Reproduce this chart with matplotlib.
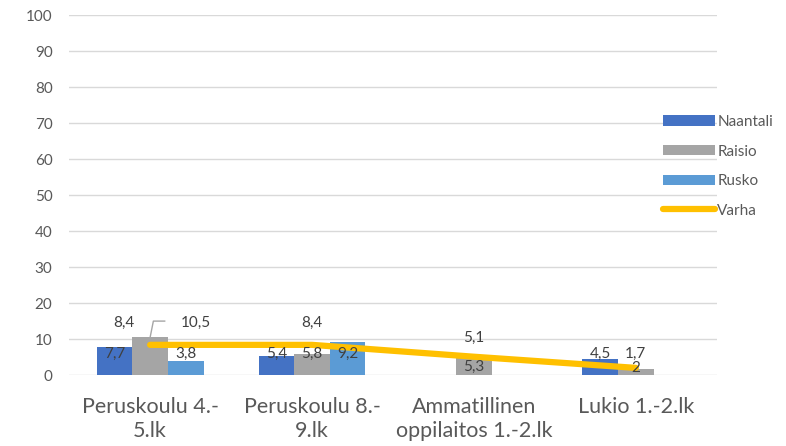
import numpy as np
import matplotlib
matplotlib.use("Agg")
import matplotlib.pyplot as plt

categories = ["Peruskoulu 4.-\n5.lk", "Peruskoulu 8.-\n9.lk",
              "Ammatillinen\noppilaitos 1.-2.lk", "Lukio 1.-2.lk"]
naantali = [7.7, 5.4, np.nan, 4.5]
raisio = [10.5, 5.8, 5.3, 1.7]
rusko = [3.8, 9.2, np.nan, np.nan]
varha = [8.4, 8.4, 5.1, 2.0]
yticks = list(range(0, 101, 10))

def fmt(v):
    s = f"{v:g}"
    return s.replace(".", ",")

plt.rcParams['font.family'] = ['Lato', 'DejaVu Sans']
fig = plt.figure(figsize=(7.86, 4.46), dpi=100)
ax = fig.add_axes([0.088, 0.159, 0.824, 0.807])

x = np.arange(len(categories))
w = 0.22
series = [("Naantali", naantali, "#4472C4", -w),
          ("Raisio", raisio, "#A5A5A5", 0.0),
          ("Rusko", rusko, "#5B9BD5", w)]
handles = []
for name, vals, col, off in series:
    h = ax.bar(x + off, vals, width=w, color=col, label=name, zorder=2)
    handles.append(h)
ln, = ax.plot(x, varha, color="#FFC000", lw=4.5, solid_capstyle="round",
              label="Varha", zorder=3)
handles.append(ln)

ax.set_xlim(-0.5, 3.5)
ax.set_ylim(0, 100)
ax.set_yticks(yticks)
ax.grid(axis="y", color="#D9D9D9", lw=1.0, zorder=0)
ax.set_axisbelow(True)
for s in ax.spines.values():
    s.set_visible(False)
ax.tick_params(axis="both", length=0, colors="#595959")
ax.tick_params(axis="y", labelsize=11, pad=12)
ax.set_xticks(x)
ax.set_xticklabels(categories, fontsize=15.5, color="#595959", linespacing=1.2)
ax.tick_params(axis="x", pad=16)

# data labels (series values, x offset in category units, label y)
lab = dict(fontsize=11, color="#404040", ha="center", va="center", zorder=5)
label_layout = [
    (naantali, 0, -w, 6.0), (raisio, 0, 0.28, 14.5), (rusko, 0, w, 6.0), (varha, 0, -0.16, 14.5),
    (naantali, 1, -w, 6.0), (raisio, 1, 0.0, 6.0), (rusko, 1, w, 6.0), (varha, 1, 0.0, 14.5),
    (raisio, 2, 0.0, 2.2), (varha, 2, 0.0, 10.3),
    (naantali, 3, -w, 6.0), (raisio, 3, 0.0, 6.0), (varha, 3, 0.0, 2.0),
]
for vals, i, dx, yy in label_layout:
    ax.text(i + dx, yy, fmt(vals[i]), **lab)
# leader line for 10,5
ax.plot([0.0, 0.02, 0.09], [raisio[0], 15.0, 15.0], color="#A5A5A5", lw=1, zorder=4)

leg = ax.legend(handles=handles, loc="center left", bbox_to_anchor=(0.917, 0.58),
                frameon=False, fontsize=11, handlelength=3.4, handleheight=0.65,
                labelspacing=1.02, handletextpad=0.15, borderaxespad=0, borderpad=0)
for t in leg.get_texts():
    t.set_color("#595959")

fig.savefig("out.png", dpi=100)
